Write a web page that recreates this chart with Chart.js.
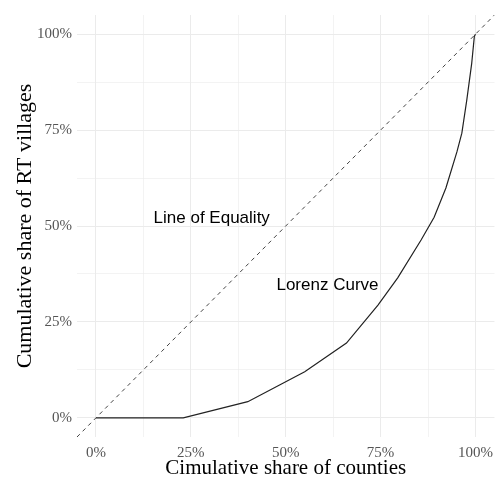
<!DOCTYPE html>
<html>
<head>
<meta charset="utf-8">
<script src="https://cdn.jsdelivr.net/npm/chart.js@4.4.0/dist/chart.umd.min.js"></script>
<style>
  html, body { margin: 0; padding: 0; background: #fff; }
  #wrap { width: 500px; height: 477px; }
</style>
</head>
<body>
<div id="wrap"><canvas id="lorenz"></canvas></div>
<script>
// Lorenz curve (percent)
let countyShare  = [0, 23, 40, 55, 66, 74.3, 79.5, 85.7, 89.1, 92.2, 95.1, 96.4, 97.7, 99, 99.7, 100];
let villageShare = [0, 0, 4.2, 12, 19.5, 29.4, 36.5, 46.4, 52.3, 59.9, 69.3, 74.2, 82.8, 92.4, 99.5, 100];

// equality line runs over the whole (expanded) panel
let equalityX = [-5, 105];
let equalityY = [-5, 105];

let gridBreaks = [0, 12.5, 25, 37.5, 50, 62.5, 75, 87.5, 100];

let labels = [
    { text: "Line of Equality", x: 30.5, y: 52 },
    { text: "Lorenz Curve", x: 61, y: 34.6 }
];

function toPoints(xs, ys) {
    return xs.map((x, i) => ({ x: x, y: ys[i] }));
}

// draw the two text labels in data coordinates
const textLabels = {
    id: 'textLabels',
    afterDatasetsDraw(chart) {
        const ctx = chart.ctx;
        const xs = chart.scales.x, ys = chart.scales.y;
        ctx.save();
        ctx.font = '17px "Liberation Sans", Arial, sans-serif';
        ctx.fillStyle = '#000';
        ctx.textAlign = 'center';
        ctx.textBaseline = 'middle';
        labels.forEach(l => {
            ctx.fillText(l.text, xs.getPixelForValue(l.x), ys.getPixelForValue(l.y));
        });
        ctx.restore();
    }
};

function setBreaks(axis) {
    axis.ticks = gridBreaks.map(v => ({ value: v }));
}

function pct(v) {
    return (v % 25 === 0) ? v + '%' : '';
}

const serif = '"Liberation Serif", "Times New Roman", serif';

const config = {
    type: 'scatter',
    data: {
        datasets: [
            {
                label: 'Line of Equality',
                data: toPoints(equalityX, equalityY),
                showLine: true,
                borderColor: '#444',
                borderWidth: 1,
                borderDash: [4, 4],
                pointRadius: 0,
                fill: false
            },
            {
                label: 'Lorenz Curve',
                data: toPoints(countyShare, villageShare),
                showLine: true,
                borderColor: '#222',
                borderWidth: 1.2,
                pointRadius: 0,
                tension: 0,
                fill: false
            }
        ]
    },
    options: {
        responsive: true,
        maintainAspectRatio: false,
        animation: false,
        layout: { padding: { top: 15, right: 0 } },
        plugins: {
            legend: { display: false },
            tooltip: { enabled: false }
        },
        scales: {
            x: {
                type: 'linear',
                min: -5,
                max: 105,
                afterBuildTicks: setBreaks,
                afterFit: s => { s.height = 40; },
                border: { display: false },
                grid: {
                    color: '#ebebeb',
                    lineWidth: c => (c.tick && c.tick.value % 25 === 0) ? 1 : 0.6,
                    drawTicks: false
                },
                ticks: {
                    callback: pct,
                    autoSkip: false,
                    maxRotation: 0,
                    padding: 7,
                    color: '#555',
                    font: { family: serif, size: 15 }
                },
                title: {
                    display: true,
                    text: 'Cimulative share of counties',
                    color: '#000',
                    padding: { top: 0, bottom: -2 },
                    font: { family: serif, size: 21, lineHeight: 1 }
                }
            },
            y: {
                type: 'linear',
                min: -5,
                max: 105,
                afterBuildTicks: setBreaks,
                afterFit: s => { s.width = 77; },
                border: { display: false },
                grid: {
                    color: '#ebebeb',
                    lineWidth: c => (c.tick && c.tick.value % 25 === 0) ? 1 : 0.6,
                    drawTicks: false
                },
                ticks: {
                    callback: pct,
                    autoSkip: false,
                    padding: 5,
                    color: '#555',
                    font: { family: serif, size: 15 }
                },
                title: {
                    display: true,
                    text: 'Cumulative share of RT villages',
                    color: '#000',
                    padding: { top: 14, bottom: 0 },
                    font: { family: serif, size: 22, lineHeight: 1 }
                }
            }
        }
    },
    plugins: [textLabels]
};

new Chart(document.getElementById('lorenz'), config);
</script>
</body>
</html>
